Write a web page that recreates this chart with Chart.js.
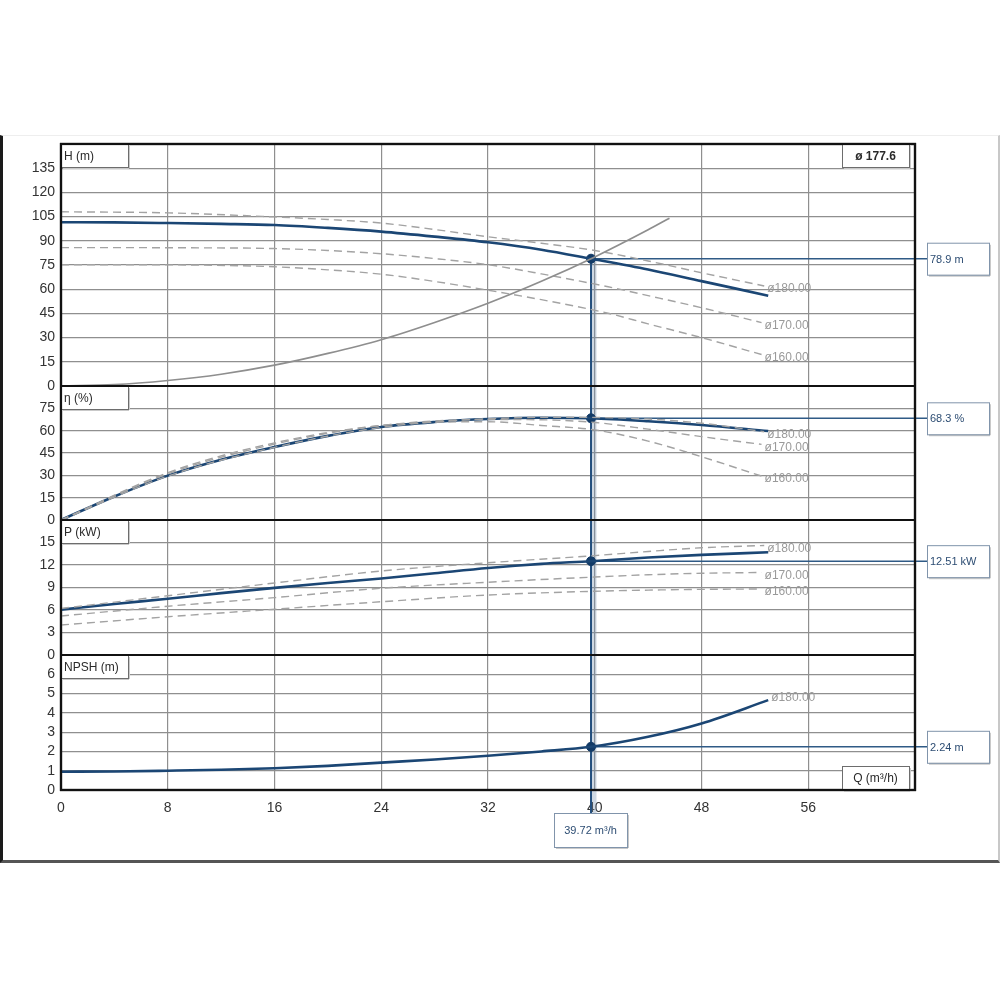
<!DOCTYPE html>
<html>
<head>
<meta charset="utf-8">
<script src="https://cdn.jsdelivr.net/npm/chart.js@4.4.0/dist/chart.umd.min.js"></script>
<style>
html,body{margin:0;padding:0;background:#fff;}
#frame{position:absolute;left:0;top:135px;width:995px;height:724px;border-left:3px solid #1a1a1a;border-bottom:3px solid #555;border-right:2px solid #c8c8c8;border-top:1px solid #eeeeee;}
#wrap{position:absolute;left:0;top:0;width:1000px;height:1000px;}
</style>
</head>
<body>
<div id="frame"></div>
<div id="wrap"><canvas id="c" width="1000" height="1000"></canvas></div>
<script>
// ---------- DATA ----------
const qMain   = [0, 4, 8, 12, 16, 20, 24, 28, 32, 36, 39.72, 44, 48, 53];
const hMain   = [101.5, 101.4, 101, 100.5, 99.8, 98, 95.7, 92.6, 89.1, 84.5, 78.9, 72.2, 65, 56];
const etaMain = [0, 15.8, 29.8, 40.5, 49, 56.5, 62.5, 65.8, 67.8, 68.7, 68.3, 66.3, 63.8, 59.8];
const pMain   = [6.05, 6.8, 7.5, 8.25, 8.95, 9.6, 10.2, 10.9, 11.6, 12.15, 12.51, 13.0, 13.35, 13.7];
const npshMain= [0.95, 0.96, 1.0, 1.05, 1.13, 1.25, 1.42, 1.58, 1.78, 2.0, 2.24, 2.76, 3.45, 4.66];

const qD180 = [0, 8, 16, 20, 24, 28, 32, 36, 40, 44, 48, 52.7];
const h180  = [108, 107.3, 104.8, 103.2, 101, 97, 92.5, 88.5, 84, 77.5, 70.2, 62];
const qD170 = [0, 8, 16, 20, 24, 28, 32, 36, 41, 44, 48, 52.5];
const h170  = [85.8, 85.7, 85.2, 84, 82, 79, 75.2, 69.5, 61.5, 56, 48.5, 39.3];
const h160  = [75.2, 75.1, 73.9, 72, 69.3, 64.8, 59.4, 53.5, 45.1, 38.5, 30, 19.5];

const qSys = [0, 4, 8, 12, 16, 20, 24, 28, 32, 36, 40, 44, 45.6];
const hSys = [0, 0.8, 3.4, 7.3, 12.9, 20.2, 28.7, 39.4, 51.3, 64.9, 80, 96.8, 104];

const qE180 = [0, 8, 16, 24, 32, 38, 44, 48, 52.7];
const e180  = [0, 29.5, 48.8, 62.2, 68, 69, 67.8, 65, 59.3];
const qE17  = [0, 8, 16, 24, 32, 36, 40, 44, 48, 52.5];
const e170  = [0, 31, 51, 63.5, 67.5, 67.3, 65.5, 61, 56, 50.8];
const e160  = [0, 31.8, 51.8, 63.5, 66, 63.5, 60.5, 53, 42.5, 29.5];

const qP180 = [0, 8, 16, 24, 32, 40, 44, 48, 52.7];
const p180  = [6.2, 7.9, 9.6, 11.2, 12.3, 13.25, 13.8, 14.3, 14.6];
const qP17  = [0, 8, 16, 24, 32, 40, 44, 48, 52.5];
const p170  = [5.2, 6.5, 7.65, 8.9, 9.7, 10.4, 10.7, 10.9, 11.0];
const p160  = [4.0, 5.1, 6.1, 7.1, 8.0, 8.5, 8.65, 8.75, 8.8];

const opQ = 39.72;
const opValues = [78.9, 68.3, 12.51, 2.24];
const opLabels = ['78.9 m', '68.3 %', '12.51 kW', '2.24 m'];
const opQLabel = '39.72 m\u00B3/h';

const axisTitles = ['H (m)', '\u03B7 (%)', 'P (kW)', 'NPSH (m)'];
const xTitle = 'Q (m\u00B3/h)';
const impellerTitle = '\u00F8 177.6';
const curveLabels = ['\u00F8180.00', '\u00F8170.00', '\u00F8160.00'];

// axis ranges / tick steps
const xRange = [0, 64, 8];
const hRange = [0, 150, 15];
const eRange = [0, 90, 15];
const pRange = [0, 18, 3];
const nRange = [0, 7, 1];

// ---------- CHART ----------
const pts = (qs, vs) => qs.map((q, i) => ({x: q, y: vs[i]}));
const MAIN = '#1b4674';
const DASH = '#a3a3a3';
const FONT = "'Liberation Sans', Arial, sans-serif";

function mainDs(data, axis) {
  return {data, yAxisID: axis, borderColor: MAIN, borderWidth: 2.6, pointRadius: 0,
          cubicInterpolationMode: 'monotone', fill: false};
}
function dashDs(data, axis, label) {
  return {data, yAxisID: axis, borderColor: DASH, borderWidth: 1.4, borderDash: [8, 5],
          pointRadius: 0, cubicInterpolationMode: 'monotone', fill: false, curveLabel: label};
}
function opDs(v, axis) {
  return {data: [{x: opQ, y: v}], yAxisID: axis, showLine: false, pointRadius: 4.5,
          pointBackgroundColor: '#123a66', pointBorderColor: '#123a66'};
}

const datasets = [
  {data: pts(qSys, hSys), yAxisID: 'yH', borderColor: '#8e8e8e', borderWidth: 1.7, pointRadius: 0,
   cubicInterpolationMode: 'monotone', fill: false},
  dashDs(pts(qD180, h180), 'yH', curveLabels[0]),
  dashDs(pts(qD170, h170), 'yH', curveLabels[1]),
  dashDs(pts(qD170, h160), 'yH', curveLabels[2]),
  mainDs(pts(qMain, hMain), 'yH'),

  dashDs(pts(qE180, e180), 'yE', curveLabels[0]),
  dashDs(pts(qE17, e170), 'yE', curveLabels[1]),
  dashDs(pts(qE17, e160), 'yE', curveLabels[2]),
  mainDs(pts(qMain, etaMain), 'yE'),

  dashDs(pts(qP180, p180), 'yP', curveLabels[0]),
  dashDs(pts(qP17, p170), 'yP', curveLabels[1]),
  dashDs(pts(qP17, p160), 'yP', curveLabels[2]),
  mainDs(pts(qMain, pMain), 'yP'),

  Object.assign(mainDs(pts(qMain, npshMain), 'yN'), {curveLabel: curveLabels[0], labelDy: -2}),

  opDs(opValues[0], 'yH'),
  opDs(opValues[1], 'yE'),
  opDs(opValues[2], 'yP'),
  opDs(opValues[3], 'yN'),
];

const GRID = {color: '#8f8f8f', lineWidth: 1.2, drawTicks: false};
const TICKS = {font: {family: FONT, size: 14}, color: '#333', padding: 6, autoSkip: false};

function yAxis(range, weight, stackWeight) {
  return {
    type: 'linear', position: 'left', stack: 'pump', stackWeight, weight,
    min: range[0], max: range[1],
    ticks: Object.assign({}, TICKS, {stepSize: range[2], callback: v => v === range[1] ? '' : v}),
    grid: GRID, border: {display: false},
    afterFit: s => { s.width = 61; }
  };
}

function line(ctx, x1, y1, x2, y2) { ctx.beginPath(); ctx.moveTo(x1, y1); ctx.lineTo(x2, y2); ctx.stroke(); }

function box(ctx, x, y, w, h, text, align, color, font, stroke) {
  ctx.fillStyle = '#fff';
  ctx.fillRect(x, y, w, h);
  ctx.strokeStyle = '#c9c9c9'; ctx.lineWidth = 2;
  line(ctx, x + w + 1, y + 2, x + w + 1, y + h + 1);
  line(ctx, x + 2, y + h + 1, x + w + 1, y + h + 1);
  ctx.strokeStyle = stroke; ctx.lineWidth = 1;
  ctx.strokeRect(x + 0.5, y + 0.5, w, h);
  ctx.fillStyle = color; ctx.font = font; ctx.textBaseline = 'middle';
  ctx.textAlign = align;
  const tx = align === 'left' ? x + 3 : x + w / 2;
  ctx.fillText(text, tx, y + h / 2 + 1);
}

const decor = {
  id: 'decor',
  beforeDatasetsDraw(chart) {
    const {ctx, chartArea: a, scales} = chart;
    ctx.save();
    ctx.strokeStyle = '#111'; ctx.lineWidth = 2.2;
    ctx.strokeRect(a.left, a.top, a.right - a.left, a.bottom - a.top);
    ['yE', 'yP', 'yN'].forEach(id => line(ctx, a.left, scales[id].top, a.right, scales[id].top));

    const x = scales.x.getPixelForValue(opQ);
    const ids = ['yH', 'yE', 'yP', 'yN'];
    const yTop = scales.yH.getPixelForValue(opValues[0]);
    const yBot = a.bottom + 23;
    ctx.strokeStyle = 'rgba(120,145,175,0.35)'; ctx.lineWidth = 6;
    line(ctx, x + 2.5, yTop, x + 2.5, yBot);
    ctx.strokeStyle = '#244f7e'; ctx.lineWidth = 2;
    line(ctx, x, yTop, x, yBot);
    ctx.lineWidth = 1.5; ctx.strokeStyle = '#2f5a86';
    ids.forEach((id, i) => {
      const y = scales[id].getPixelForValue(opValues[i]);
      line(ctx, x, y, a.right + 12, y);
    });
    ctx.restore();
  },
  afterDatasetsDraw(chart) {
    const {ctx, chartArea: a, scales} = chart;
    ctx.save();
    // curve end labels
    ctx.font = '12px ' + FONT; ctx.fillStyle = '#9a9a9a';
    ctx.textAlign = 'left'; ctx.textBaseline = 'middle';
    chart.data.datasets.forEach(ds => {
      if (!ds.curveLabel) return;
      const last = ds.data[ds.data.length - 1];
      const px = scales.x.getPixelForValue(last.x);
      const py = scales[ds.yAxisID].getPixelForValue(last.y);
      ctx.fillText(ds.curveLabel, px + 3, py + (ds.labelDy !== undefined ? ds.labelDy : 3));
    });
    // axis title boxes
    const ids = ['yH', 'yE', 'yP', 'yN'];
    const tf = '12px ' + FONT;
    ids.forEach((id, i) => {
      box(ctx, a.left, scales[id].top, 67, 23, axisTitles[i], 'left', '#2a2a2a', tf, '#6d6d6d');
    });
    box(ctx, a.right - 73, a.top, 67, 23, impellerTitle, 'center', '#2a2a2a', 'bold 12px ' + FONT, '#6d6d6d');
    box(ctx, a.right - 73, a.bottom - 24, 67, 24, xTitle, 'center', '#2a2a2a', tf, '#6d6d6d');
    // re-draw thick borders over the boxes
    ctx.strokeStyle = '#111'; ctx.lineWidth = 2.2;
    ctx.strokeRect(a.left, a.top, a.right - a.left, a.bottom - a.top);
    ['yE', 'yP', 'yN'].forEach(id => line(ctx, a.left, scales[id].top, a.right, scales[id].top));
    // operating point value boxes
    const lf = '11px ' + FONT;
    ids.forEach((id, i) => {
      const y = scales[id].getPixelForValue(opValues[i]);
      box(ctx, a.right + 12, y - 16, 62, 32, opLabels[i], 'left', '#2d4d73', lf, '#8094ab');
    });
    const x = scales.x.getPixelForValue(opQ);
    box(ctx, x - 37, a.bottom + 23, 73, 34, opQLabel, 'center', '#2d4d73', lf, '#8094ab');
    ctx.restore();
  }
};

new Chart(document.getElementById('c'), {
  type: 'line',
  data: {datasets},
  options: {
    responsive: false,
    animation: false,
    layout: {padding: {left: 0, top: 144, right: 85, bottom: 180}},
    plugins: {legend: {display: false}, tooltip: {enabled: false}},
    scales: {
      x: {
        type: 'linear', min: xRange[0], max: xRange[1],
        ticks: Object.assign({}, TICKS, {stepSize: xRange[2], padding: 10, callback: v => v === xRange[1] ? '' : v}),
        grid: GRID, border: {display: false},
        afterFit: s => { s.height = 30; }
      },
      yH: yAxis(hRange, 4, 242),
      yE: yAxis(eRange, 3, 134),
      yP: yAxis(pRange, 2, 135),
      yN: yAxis(nRange, 1, 135)
    }
  },
  plugins: [decor]
});
</script>
</body>
</html>
